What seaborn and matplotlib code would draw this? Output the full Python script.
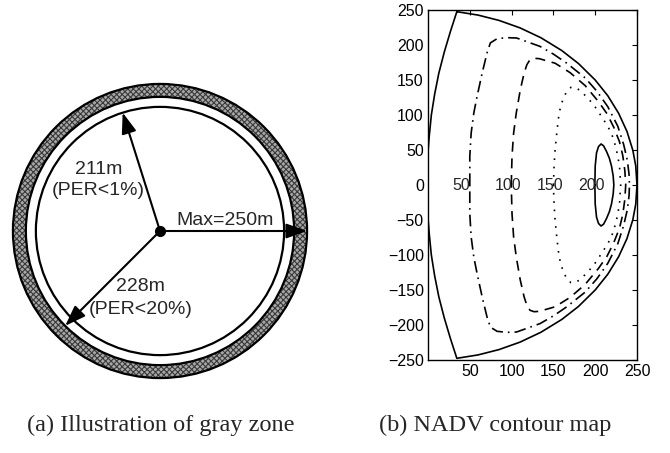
import numpy as np
import matplotlib
matplotlib.use("Agg")
import matplotlib.pyplot as plt
from matplotlib.patches import Circle, Wedge
import seaborn as sns

# ---- (a) gray zone ----
radii = [211, 228, 250]           # PER<1%, PER<20%, max range (m)
radius_text = ["211m", "228m", "Max=250m"]
per_text = ["(PER<1%)", "(PER<20%)", ""]

outer_x = [34.5, 60, 85, 110, 135, 160, 180, 200, 215, 228, 238, 245, 248.5, 250,
           248.5, 245, 238, 228, 215, 200, 180, 160, 135, 110, 85, 60, 34.5,
           27, 19.5, 13, 8, 4, 1.5, -0.5, -1, -0.5, 1.5, 4, 8, 13, 19.5, 27, 34.5]
outer_y = [247.6, 242.7, 235.1, 224.5, 210.4, 192.1, 173.5, 150, 127.6, 102.5, 76.5, 49.7, 27.3, 0,
           -27.3, -49.7, -76.5, -102.5, -127.6, -150, -173.5, -192.1, -210.4, -224.5, -235.1, -242.7, -247.6,
           -220, -190, -160, -130, -100, -70, -40, 0, 40, 70, 100, 130, 160, 190, 220, 247.6]

c50_x = [50, 50, 51.6, 54.8, 58.8, 64.8, 70.7, 74.6, 82.6, 94, 106, 120, 134, 150, 166, 188, 202, 215, 227, 234, 238.5, 240.5, 241,
         240.5, 238.5, 234, 227, 215, 202, 188, 166, 150, 134, 120, 106, 94, 82.6, 74.6, 70.7, 64.8, 58.8, 54.8, 51.6, 50, 50]
c50_y = [0, 41, 74, 103, 127, 160, 189, 203, 209, 210.5, 210, 204, 198, 187, 174, 153, 134, 112, 84, 58, 35, 15, 0,
         -15, -35, -58, -84, -112, -134, -153, -174, -187, -198, -204, -210, -210.5, -209, -203, -189, -160, -127, -103, -74, -41, 0]

c100_x = [99.6, 100.5, 102.4, 105.6, 110.4, 115, 118.3, 122, 127, 133, 152, 170, 188, 204, 214, 222, 229, 233, 235.5, 236.5,
          235.5, 233, 229, 222, 214, 204, 188, 170, 152, 133, 127, 122, 118.3, 115, 110.4, 105.6, 102.4, 100.5, 99.6]
c100_y = [0, 41, 74, 103, 136, 160, 172, 179, 181, 180.5, 174, 160.5, 142, 119, 102, 83, 62, 42, 20, 0,
          -20, -42, -62, -83, -102, -119, -142, -160.5, -174, -180.5, -181, -179, -172, -160, -136, -103, -74, -41, 0]

c150_x = [150, 150.8, 152, 154, 156, 158.5, 162, 166, 171, 177, 183, 190, 198, 208, 215, 220, 225, 229, 230.5,
          229, 225, 220, 215, 208, 198, 190, 183, 177, 171, 166, 162, 158.5, 156, 154, 152, 150.8, 150]
c150_y = [0, 27, 50, 74, 95, 112, 124, 134, 139.5, 139, 134, 125.5, 115, 97, 84, 72, 53, 28, 0,
          -28, -53, -72, -84, -97, -115, -125.5, -134, -139, -139.5, -134, -124, -112, -95, -74, -50, -27, 0]

c200_x = [199.6, 200, 201.6, 204, 207, 210, 213.5, 217, 219.5, 221.5, 222.3,
          221.5, 219.5, 217, 213.5, 210, 207, 204, 201.6, 200, 199.6]
c200_y = [0, 27, 46, 55, 58.6, 56, 48, 38, 27, 13, 0,
          -13, -27, -38, -48, -56, -58.6, -55, -46, -27, 0]

contour_levels = ["50", "100", "150", "200"]
label_x = [40, 96, 146, 196]
x_ticks = [50, 100, 150, 200, 250]
y_ticks = [-250, -200, -150, -100, -50, 0, 50, 100, 150, 200, 250]

sns.set_style("white")
plt.rcParams['font.family'] = ['Liberation Sans', 'DejaVu Sans']
plt.rcParams['hatch.color'] = '#3a3a3a'
plt.rcParams['hatch.linewidth'] = 0.8

fig = plt.figure(figsize=(6.7, 4.53), dpi=100)

# panel (a)
ax1 = fig.add_axes([0, 62 / 453, 320 / 670, 320 / 453])
ax1.set_xlim(-272, 272)
ax1.set_ylim(-272, 272)
ax1.set_aspect('equal')
ax1.axis('off')

ring = Wedge((0, 0), radii[2], 0, 360, width=radii[2] - radii[1],
             facecolor='#a8a8a8', edgecolor='#3a3a3a', hatch='xxxxxx', lw=0)
ax1.add_patch(ring)
for r in radii:
    ax1.add_patch(Circle((0, 0), r, fill=False, edgecolor='k', lw=1.6))

angles = [107.5, 225, 0]
for r, a in zip(radii, angles):
    t = np.deg2rad(a)
    ax1.annotate("", xy=(r * np.cos(t), r * np.sin(t)), xytext=(0, 0),
                 arrowprops=dict(arrowstyle='-|>,head_length=0.7,head_width=0.25',
                                 color='k', lw=1.5, mutation_scale=18,
                                 shrinkA=0, shrinkB=0))
ax1.plot([0], [0], 'o', color='k', ms=7)

ax1.text(-105, 104.5, radius_text[0], fontsize=14, ha='center', va='center')
ax1.text(-105, 68.7, per_text[0], fontsize=14, ha='center', va='center')
ax1.text(-34, -95, radius_text[1], fontsize=14, ha='center', va='center')
ax1.text(-33, -134, per_text[1], fontsize=14, ha='center', va='center')
ax1.text(111, 17.9, radius_text[2], fontsize=14, ha='center', va='center')

# panel (b)
ax2 = fig.add_axes([428 / 670, 93 / 453, 209 / 670, 350 / 453])
line_kw = dict(color='k', lw=1.2, sort=False, estimator=None, ax=ax2)
sns.lineplot(x=outer_x, y=outer_y, linestyle='-', **line_kw)
sns.lineplot(x=c50_x, y=c50_y, linestyle=(0, (7, 3, 1, 3)), **line_kw)
sns.lineplot(x=c100_x, y=c100_y, linestyle=(0, (6, 4)), **line_kw)
sns.lineplot(x=c150_x, y=c150_y, linestyle=(0, (1, 4)), **line_kw)
sns.lineplot(x=c200_x, y=c200_y, linestyle='-', **line_kw)

for lab, lx in zip(contour_levels, label_x):
    ax2.text(lx, 0, lab, fontsize=11.5, ha='center', va='center')

ax2.set_xlim(0, 250)
ax2.set_ylim(-250, 250)
ax2.set_xticks(x_ticks)
ax2.set_yticks(y_ticks)
ax2.tick_params(direction='in', length=3.5, width=0.8, top=True, right=True,
                labelsize=11.5, colors='k', pad=3)
for s in ax2.spines.values():
    s.set_visible(True)
    s.set_color('k')
    s.set_linewidth(1.0)

fig.text(161 / 670, 22 / 453, "(a) Illustration of gray zone", family='Liberation Serif',
         fontsize=17.5, ha='center', va='baseline')
fig.text(495 / 670, 22 / 453, "(b) NADV contour map", family='Liberation Serif',
         fontsize=17.5, ha='center', va='baseline')

fig.savefig("out.png", dpi=100)
